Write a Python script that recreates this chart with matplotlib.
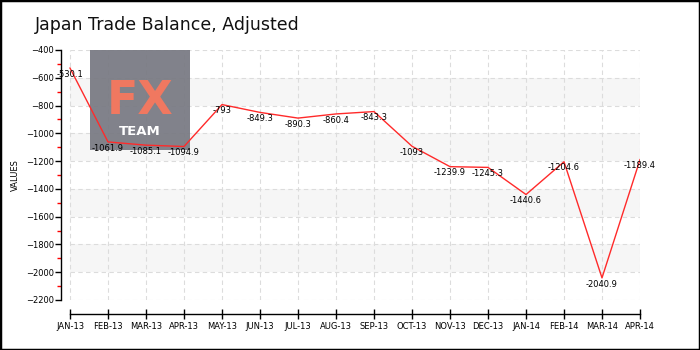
import matplotlib.pyplot as plt
from matplotlib.patches import Rectangle
from matplotlib.ticker import MultipleLocator

months = ["JAN-13", "FEB-13", "MAR-13", "APR-13", "MAY-13", "JUN-13", "JUL-13", "AUG-13",
          "SEP-13", "OCT-13", "NOV-13", "DEC-13", "JAN-14", "FEB-14", "MAR-14", "APR-14"]
balance = [-530.1, -1061.9, -1085.1, -1094.9, -793, -849.3, -890.3, -860.4,
           -843.3, -1093, -1239.9, -1245.3, -1440.6, -1204.6, -2040.9, -1189.4]
y_ticks = [-400, -600, -800, -1000, -1200, -1400, -1600, -1800, -2000, -2200]
bands = [(-800, -600), (-1200, -1000), (-1600, -1400), (-2000, -1800)]

FONT = "DejaVu Sans"

fig = plt.figure(figsize=(7, 3.5), dpi=100)
ax = fig.add_axes([61 / 700, 50 / 350, 579 / 700, 250 / 350])
x = list(range(len(months)))
x0, x1 = 0, len(months) - 1

ax.set_xlim(-0.237, x1)
ax.set_ylim(-2200, -400)

# striped background + dashed grid
for lo, hi in bands:
    ax.fill_between([x0, x1], lo, hi, color="#f6f6f6", lw=0, zorder=0)
for yv in y_ticks:
    ax.plot([x0, x1], [yv, yv], color="#dcdcdc", lw=0.8, ls=(0, (4, 3)), zorder=1)
for xv in x:
    ax.axvline(xv, color="#dcdcdc", lw=0.8, ls=(0, (4, 3)), zorder=1)

# logo box
ax.add_patch(Rectangle((0.526, -1120), 3.158 - 0.526, 720, facecolor="#787982",
                       alpha=0.93, edgecolor="none", zorder=2))
ax.text(1.842, -860, "FX", color="#f07860", fontsize=33, fontweight="semibold",
        family=FONT, ha="center", va="baseline", zorder=3)
ax.text(1.842, -1010, "TEAM", color="white", fontsize=9.5, fontweight="bold",
        family=FONT, ha="center", va="baseline", zorder=3)

ax.plot(x, balance, color="#ff2a2a", lw=1, zorder=4)
for xi, v in zip(x, balance):
    ax.text(xi, v - 12, f"{v:g}", fontsize=6, family=FONT, ha="center", va="top",
            color="black", zorder=5)

# axes styling
for side in ("top", "right"):
    ax.spines[side].set_visible(False)
ax.spines["left"].set_bounds(-2200, -400)
ax.spines["bottom"].set_position(("outward", 10))
ax.spines["bottom"].set_bounds(x0, x1)
ax.spines["left"].set_linewidth(1)
ax.spines["bottom"].set_linewidth(1)

ax.set_yticks(y_ticks)
ax.yaxis.set_minor_locator(MultipleLocator(100))
ax.tick_params(axis="y", which="major", length=4, width=1, labelsize=6, pad=1)
ax.tick_params(axis="y", which="minor", length=3, width=1, color="red")
ax.set_xticks(x)
ax.set_xticklabels(months)
ax.tick_params(axis="x", direction="inout", length=7, width=1, labelsize=6, pad=2)
for lbl in ax.get_xticklabels() + ax.get_yticklabels():
    lbl.set_family(FONT)

ax.set_ylabel("VALUES", fontsize=6, family=FONT, labelpad=4)

fig.text(35 / 700, 1 - 30 / 350, "Japan Trade Balance, Adjusted", fontsize=12.5,
         family=FONT, va="baseline", ha="left", color="#111111")

fig.patches.append(Rectangle((0, 0), 1, 1, transform=fig.transFigure, fill=False,
                             edgecolor="black", lw=2.5))

fig.savefig("out.png", dpi=100)
